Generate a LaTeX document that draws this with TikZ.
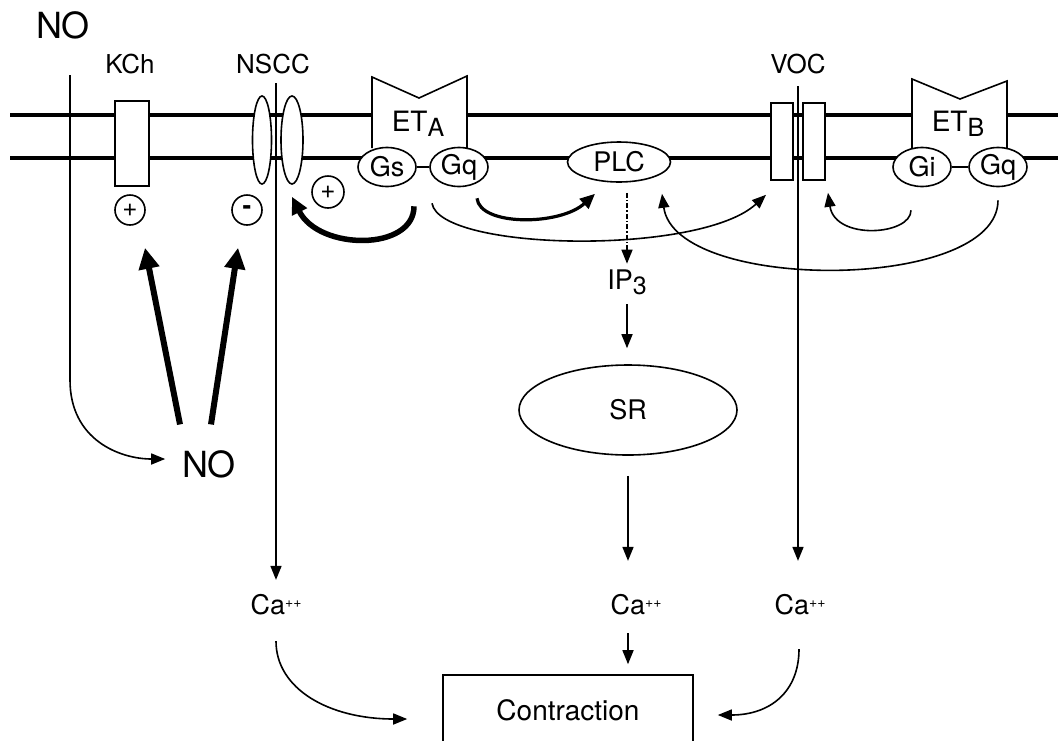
\documentclass[tikz,border=0pt]{standalone}
\usepackage{fontspec}
\setmainfont{TeX Gyre Heros}
\usetikzlibrary{arrows.meta,shapes.geometric}

\newcommand{\fs}[1]{\fontsize{#1}{#1}\selectfont}
\newcommand{\lowered}[1]{\raisebox{-5pt}{\fs{25}#1}}
\newcommand{\ionpp}{\raisebox{7.5pt}{\fs{14}++}}

\begin{document}
\begin{tikzpicture}[x=1pt,y=-1pt,line width=1.6pt,
  >={Triangle[length=14pt,width=11pt]},
  membrane/.style={line width=3.4pt},
  lbl/.style={font=\fs{27},inner sep=2pt},
  toplbl/.style={font=\fs{26},inner sep=2pt},
  gprot/.style={ellipse,draw,fill=white,minimum width=58pt,minimum height=39pt,inner sep=0pt,font=\fs{27}},
  sign/.style={circle,draw,fill=white,minimum size=30pt,inner sep=0pt,font=\fs{26}},
  chanbox/.style={rectangle,draw,fill=white,inner sep=0pt},
  pore/.style={ellipse,draw,fill=white,inner sep=0pt,minimum height=88pt},
  heavy/.style={line width=6pt,-{Triangle[length=21pt,width=20pt]}},
  thickcurve/.style={line width=5.5pt,-{Triangle[length=17pt,width=16pt]}},
  midcurve/.style={line width=3.2pt,-{Triangle[length=15pt,width=13pt]}},
  dashdot/.style={dash pattern=on 5pt off 2pt on 1.5pt off 2pt}]
  \useasboundingbox (0,0) rectangle (1058,740);
  \clip (0,0) rectangle (1058,740);
  % membrane
  \draw[membrane] (10,115) -- (1058,115);
  \draw[membrane] (10,158) -- (1058,158);
  % channel names
  \node[font=\fs{36},inner sep=0pt] (noTop) at (63,25) {NO};
  \node[toplbl] (kch) at (130,64) {KCh};
  \node[toplbl] (nscc) at (273,64) {NSCC};
  \node[toplbl] (voc) at (798,64) {VOC};
  % channels
  \node[chanbox,minimum width=34pt,minimum height=85pt] (kbox) at (132,143.5) {};
  \node[pore,minimum width=19pt] (poreL) at (262,140) {};
  \node[pore,minimum width=22pt] (poreR) at (292,140) {};
  \foreach \nm/\xx in {vocL/782,vocR/814}
    \node[chanbox,minimum width=22pt,minimum height=77pt] (\nm) at (\xx,141.5) {};
  % ET_A receptor
  \fill[white] (372,77) -- (419,98) -- (467,76) -- (467,160) -- (372,160) -- cycle;
  \draw (372,148) -- (372,77) -- (419,98) -- (467,76) -- (467,148);
  \node[lbl,font=\fs{28}] (etA) at (418,124) {ET\lowered{A}};
  \node[gprot] (gsA) at (387,167) {Gs};
  \node[gprot] (gqA) at (459,167) {Gq};
  \draw (gsA) -- (gqA);
  % ET_B receptor
  \fill[white] (912,79) -- (960,99) -- (1007,81) -- (1007,160) -- (912,160) -- cycle;
  \draw (912,148) -- (912,79) -- (960,99) -- (1007,81) -- (1007,148);
  \node[lbl,font=\fs{28}] (etB) at (958,124) {ET\lowered{B}};
  \node[gprot] (giB) at (922,167) {Gi};
  \node[gprot] (gqB) at (998,167) {Gq};
  \draw (giB) -- (gqB);
  % PLC, IP3, SR
  \node[ellipse,draw,fill=white,minimum width=103pt,minimum height=40pt,inner sep=0pt,font=\fs{27}] (plc) at (619,162) {PLC};
  \node[lbl] (ip3) at (627,282) {IP\lowered{3}};
  \node[ellipse,draw,minimum width=218pt,minimum height=90pt,font=\fs{27}] (sr) at (628,410) {SR};
  % signs
  \node[sign] (plusK) at (130,210) {+};
  \node[sign] (minusN) at (247,210) {\textbf{-}};
  \node[sign,minimum size=32pt] (plusN) at (328,192) {+};
  % NO inside the cell
  \node[font=\fs{36},inner sep=3pt] (noLow) at (209,464) {NO};
  % Ca and contraction
  \node[lbl] (caL) at (276,605) {Ca\ionpp};
  \node[lbl] (caM) at (636,605) {Ca\ionpp};
  \node[lbl] (caR) at (800,605) {Ca\ionpp};
  \node[draw,minimum width=250pt,minimum height=70pt,font=\fs{28}] (contr) at (568,710) {Contraction};
  % NO pathway
  \coordinate (noIn) at (70,75);
  \draw[->] (noIn) -- (70,380) .. controls (70,440) and (120,459) .. ([xshift=-13pt,yshift=5pt]noLow.west);
  \draw[heavy] ([xshift=-29pt,yshift=22pt]noLow.north) -- ([xshift=15pt,yshift=-22pt]plusK.south);
  \draw[heavy] ([xshift=2pt,yshift=22pt]noLow.north) -- ([xshift=-9pt,yshift=-22pt]minusN.south);
  % ET_A pathways
  \draw[thickcurve] ([xshift=27pt,yshift=-19pt]gsA.south) .. controls +(0,45) and +(27,54) .. ([yshift=-12pt]poreR.south);
  \draw[midcurve] ([xshift=18pt,yshift=-11pt]gqA.south) .. controls +(3,28) and +(-35,32) .. ([xshift=-24pt,yshift=-11pt]plc.south);
  \draw[->] ([xshift=-27pt,yshift=-16pt]gqA.south) .. controls +(8,48) and +(-66,61) .. ([xshift=-16pt,yshift=-14pt]vocL.south);
  % ET_B pathways
  \draw[->] ([xshift=-11pt,yshift=-23pt]giB.south) .. controls +(0,25) and +(7,48) .. ([xshift=14pt,yshift=-12pt]vocR.south);
  \draw[->] ([yshift=-13pt]gqB.south) .. controls +(0,92) and +(13,99) .. ([xshift=43pt,yshift=-11pt]plc.south);
  % PLC -> IP3 -> SR -> Ca
  \draw[dashdot,->,shorten <=10pt,shorten >=3pt] (ip3.north |- plc.south) -- (ip3.north);
  \draw[->,shorten <=7pt,shorten >=16pt] (ip3.south) -- (ip3.south |- sr.north);
  \draw[->,shorten <=20pt,shorten >=31pt] (sr.south) -- (sr.south |- caM.north);
  \draw[->,shorten <=15pt,shorten >=10pt] (caM.south -| sr.south) -- (contr.north -| sr.south);
  % Ca influx
  \coordinate (nsccTop) at (276,83);
  \coordinate (vocTop) at (798,86);
  \draw[->,shorten >=12pt] (nsccTop) -- (nsccTop |- caL.north);
  \draw[->,shorten >=31pt] (vocTop) -- (vocTop |- caR.north);
  \draw[->] ([yshift=-23pt]caL.south) .. controls +(0,48) and +(-78,0) .. ([xshift=-35pt,yshift=-9pt]contr.west);
  \draw[->] ([xshift=-1pt,yshift=-31pt]caR.south) .. controls +(0,42) and +(53,0) .. ([xshift=24pt,yshift=-5pt]contr.east);
\end{tikzpicture}
\end{document}
